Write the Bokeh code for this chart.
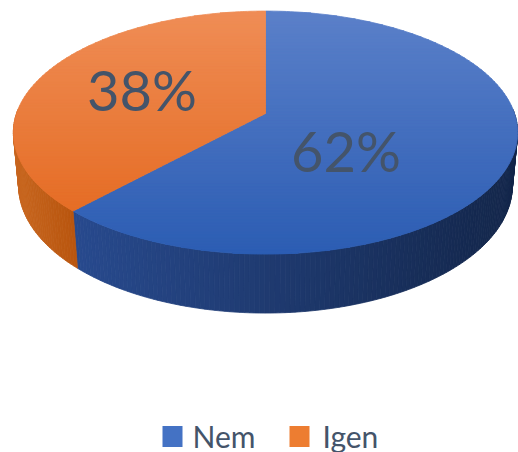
import numpy as np
from bokeh.plotting import figure
from bokeh.models import Range1d
from bokeh.core.properties import value
from bokeh.embed import file_html
from bokeh.resources import INLINE

# ---- data ----
categories = ["Nem", "Igen"]
shares = [62, 38]
labels = ["62%", "38%"]

# ---- styles ----
top_light = ["#5b80c9", "#ef8d56"]
top_dark = ["#2c5db3", "#e3661b"]
side_light = ["#284a8e", "#c8661f"]
side_dark = ["#13264a", "#b9560f"]
legend_colors = ["#4472c4", "#ed7d31"]
text_color = "#44546a"

W, H = 518, 452
p = figure(width=W, height=H, x_range=Range1d(0, W), y_range=Range1d(H, 0),
           output_backend="svg", toolbar_location=None, min_border=0)
p.axis.visible = False
p.grid.visible = False
p.outline_line_color = None
p.background_fill_color = "white"

# ---- 3D projection ----
alpha = np.arcsin(0.476)
D = 5.6
T = 0.246
S = 249.0
AX, AY = 265.0, 113.0


def proj(phi, yh, r=1.0):
    x = r * np.cos(phi)
    z = r * np.sin(phi)
    yc = yh * np.cos(alpha) + z * np.sin(alpha)
    zc = -yh * np.sin(alpha) + z * np.cos(alpha)
    k = D / (D + zc)
    return AX + S * x * k, AY - S * yc * k


def hex2rgb(h):
    h = h.lstrip("#")
    return np.array([int(h[i:i + 2], 16) for i in (0, 2, 4)], dtype=float)


def mix(c1, c2, f):
    f = min(max(f, 0.0), 1.0)
    c = hex2rgb(c1) * (1 - f) + hex2rgb(c2) * f
    return "#%02x%02x%02x" % tuple(int(round(v)) for v in c)


def clip_band(poly, y0, y1):
    def clip(pts, keep, yv):
        out = []
        n = len(pts)
        for i in range(n):
            cur = pts[i]
            prev = pts[i - 1]
            if keep(cur):
                if not keep(prev):
                    t = (yv - prev[1]) / (cur[1] - prev[1])
                    out.append((prev[0] + t * (cur[0] - prev[0]), yv))
                out.append(cur)
            elif keep(prev):
                t = (yv - prev[1]) / (cur[1] - prev[1])
                out.append((prev[0] + t * (cur[0] - prev[0]), yv))
        return out
    pts = clip(poly, lambda q: q[1] >= y0, y0)
    if pts:
        pts = clip(pts, lambda q: q[1] <= y1, y1)
    return pts


fracs = np.array(shares, dtype=float) / np.sum(shares)
bounds = np.radians(90.0 - 360.0 * np.concatenate([[0.0], np.cumsum(fracs)]))

# ---- side walls ----
wall_lo, wall_hi = np.radians(-182.0), np.radians(2.0)
wxs, wys, wcol = [], [], []
for i in range(len(shares)):
    a0, a1 = bounds[i], bounds[i + 1]  # a0 > a1
    hi = min(a0, wall_hi)
    lo = max(a1, wall_lo)
    if hi <= lo:
        continue
    n = max(2, int(np.degrees(hi - lo) / 1.0))
    edges = np.linspace(lo, hi, n + 1)
    xs_all = [proj(e, 0.0)[0] for e in edges]
    xmin, xmax = min(xs_all), max(xs_all)
    for j in range(n):
        e0, e1 = edges[j], edges[j + 1]
        p0 = proj(e0, 0.0)
        p1 = proj(e1, 0.0)
        q1 = proj(e1, -T)
        q0 = proj(e0, -T)
        wxs.append([p0[0], p1[0], q1[0], q0[0]])
        wys.append([p0[1], p1[1], q1[1], q0[1]])
        xm = 0.5 * (p0[0] + p1[0])
        f = (xm - xmin) / max(1e-6, (xmax - xmin))
        wcol.append(mix(side_light[i], side_dark[i], f))
p.patches(wxs, wys, fill_color=wcol, line_color=wcol, line_width=0.8)

# ---- top faces (vertical gradient) ----
ytop = proj(np.pi / 2, 0.0)[1]
ybot = proj(-np.pi / 2, 0.0)[1]
txs, tys, tcol = [], [], []
for i in range(len(shares)):
    a0, a1 = bounds[i], bounds[i + 1]
    arc = np.linspace(a0, a1, 200)
    poly = [proj(0.0, 0.0, r=0.0)] + [proj(a, 0.0) for a in arc]
    band = 3.0
    yb = ytop - 1
    while yb < ybot + 1:
        pts = clip_band(poly, yb, yb + band)
        if len(pts) >= 3:
            txs.append([q[0] for q in pts])
            tys.append([q[1] for q in pts])
            f = (yb + band / 2 - ytop) / (ybot - ytop)
            tcol.append(mix(top_light[i], top_dark[i], f))
        yb += band
p.patches(txs, tys, fill_color=tcol, line_color=tcol, line_width=0.8)

# ---- data labels ----
label_x = [345.5, 141.5]
label_y = [149.5, 88.5]
p.text(x=label_x, y=label_y, text=labels, text_font=value("Lato"),
       text_font_size="56px", text_color=text_color, text_align="center",
       text_baseline="middle")

# ---- legend ----
leg_sq_x = [172.0, 299.0]
leg_sq_y = [436.0, 436.0]
leg_tx_x = [192.0, 322.0]
leg_tx_y = [435.0, 435.0]
p.rect(x=leg_sq_x, y=leg_sq_y, width=20, height=21, fill_color=legend_colors,
       line_color=None)
p.text(x=leg_tx_x, y=leg_tx_y, text=categories, text_font=value("Lato"),
       text_font_size="30px", text_color=text_color, text_align="left",
       text_baseline="middle")

open("out.html", "w").write(file_html(p, INLINE))
